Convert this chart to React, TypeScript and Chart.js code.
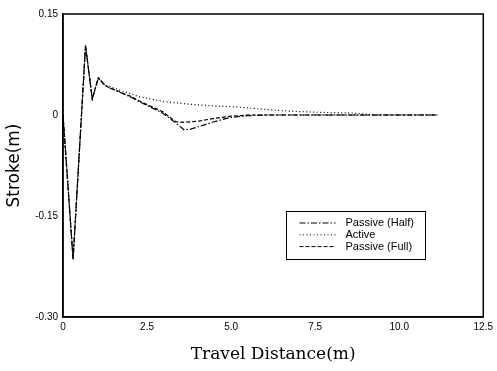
import React, { useEffect, useRef } from "react";
import { Chart, registerables } from "chart.js";

Chart.register(...registerables);

// Shared transient (all three responses overlap here)
const transientX = [0, 0.3, 0.67, 0.87, 1.05, 1.25];
const transientY = [0, -0.214, 0.103, 0.024, 0.055, 0.044];

const halfX = [1.4, 2.0, 2.3, 2.96, 3.36, 3.6, 3.8, 4.05, 4.5, 4.94, 5.5, 6.0, 11.15];
const halfY = [0.04, 0.027, 0.019, 0.003, -0.012, -0.022, -0.021, -0.017, -0.01, -0.004, -0.001, 0, 0];

const activeX = [1.4, 2.28, 3.0, 3.76, 4.6, 5.15, 5.6, 6.6, 7.6, 8.6, 9.3, 11.15];
const activeY = [0.042, 0.027, 0.02, 0.016, 0.013, 0.012, 0.01, 0.006, 0.004, 0.003, 0, 0];

const fullX = [1.4, 2.0, 2.3, 2.96, 3.36, 3.6, 4.05, 4.5, 4.94, 5.5, 11.15];
const fullY = [0.04, 0.028, 0.02, 0.005, -0.01, -0.011, -0.009, -0.005, -0.002, 0, 0];

const seriesLabels = ["Passive (Half)", "Active", "Passive (Full)"];
const xTicks = [0, 2.5, 5.0, 7.5, 10.0, 12.5];
const yTicks = [0.15, 0, -0.15, -0.3];

function build(xs: number[], ys: number[]) {
  const pts = transientX.map((x, i) => ({ x, y: transientY[i] }));
  return pts.concat(xs.map((x, i) => ({ x, y: ys[i] })));
}

const boxPlugin = {
  id: "boxAndLegend",
  afterDraw(chart: any) {
    const { ctx, chartArea } = chart;
    const { left, right, top, bottom } = chartArea;
    ctx.save();
    ctx.strokeStyle = "#000";
    ctx.lineWidth = 1.5;
    ctx.setLineDash([]);
    ctx.strokeRect(left, top, right - left, bottom - top);

    // legend box inside plot
    const w = right - left;
    const h = bottom - top;
    const lx = Math.round(left + 0.531 * w) + 0.5;
    const ly = Math.round(top + 0.65 * h) + 0.5;
    const bw = 139;
    const bh = 48;
    ctx.lineWidth = 1;
    ctx.strokeRect(lx, ly, bw, bh);
    ctx.font = "11px 'Liberation Sans', Arial, sans-serif";
    ctx.fillStyle = "#000";
    ctx.textBaseline = "middle";
    ctx.textAlign = "left";
    chart.data.datasets.forEach((ds: any, i: number) => {
      const yy = ly + 11.5 + i * 11.8;
      ctx.beginPath();
      ctx.setLineDash(ds.borderDash || []);
      ctx.lineWidth = 1;
      ctx.moveTo(lx + 13, yy);
      ctx.lineTo(lx + 49, yy);
      ctx.stroke();
      ctx.setLineDash([]);
      ctx.fillText(ds.label, lx + 59, yy);
    });
    ctx.restore();
  },
};

export default function App() {
  const ref = useRef<HTMLCanvasElement | null>(null);
  useEffect(() => {
    document.body.style.margin = "0";
    const canvas = ref.current!;
    const chart = new Chart(canvas, {
      type: "scatter",
      data: {
        datasets: [
          {
            label: seriesLabels[0],
            data: build(halfX, halfY),
            showLine: true,
            borderColor: "#000",
            borderWidth: 1.2,
            borderDash: [6, 2, 1.5, 2],
            pointRadius: 0,
            tension: 0,
          },
          {
            label: seriesLabels[1],
            data: build(activeX, activeY),
            showLine: true,
            borderColor: "#000",
            borderWidth: 1.2,
            borderDash: [1, 2.5],
            pointRadius: 0,
            tension: 0,
          },
          {
            label: seriesLabels[2],
            data: build(fullX, fullY),
            showLine: true,
            borderColor: "#000",
            borderWidth: 1.2,
            borderDash: [4, 2],
            pointRadius: 0,
            tension: 0,
          },
        ],
      },
      options: {
        responsive: false,
        animation: false,
        layout: { padding: { top: 14, right: 12, left: 0, bottom: 0 } },
        plugins: {
          legend: { display: false },
          tooltip: { enabled: false },
        },
        scales: {
          x: {
            type: "linear",
            min: 0,
            max: 12.5,
            grid: { display: false, drawTicks: false },
            border: { display: true, color: "#000", width: 1.5 },
            afterBuildTicks: (s: any) => {
              s.ticks = xTicks.map((v) => ({ value: v }));
            },
            afterFit: (s: any) => {
              s.height = 54;
            },
            ticks: {
              padding: 4,
              color: "#000",
              font: { family: "'Liberation Sans', Arial, sans-serif", size: 10 },
              maxRotation: 0,
              autoSkip: false,
              callback: (v: any) => (v === 0 ? "0" : Number(v).toFixed(1)),
            },
            title: {
              display: true,
              text: "Travel Distance(m)",
              color: "#000",
              font: { family: "'DejaVu Serif', serif", size: 17 },
              padding: { top: 0, bottom: 6 },
            },
          },
          y: {
            type: "linear",
            min: -0.3,
            max: 0.15,
            grid: { display: false, drawTicks: false },
            border: { display: true, color: "#000", width: 1.5 },
            afterBuildTicks: (s: any) => {
              s.ticks = yTicks.map((v) => ({ value: v }));
            },
            afterFit: (s: any) => {
              s.width = 63;
            },
            ticks: {
              padding: 5,
              color: "#000",
              font: { family: "'Liberation Sans', Arial, sans-serif", size: 10 },
              autoSkip: false,
              callback: (v: any) => (Math.abs(v) < 1e-9 ? "0" : Number(v).toFixed(2)),
            },
            title: {
              display: true,
              text: "Stroke(m)",
              color: "#000",
              font: { family: "'DejaVu Sans', sans-serif", size: 17 },
              padding: { top: 4, bottom: 0 },
            },
          },
        },
      },
      plugins: [boxPlugin],
    } as any);
    return () => chart.destroy();
  }, []);
  return (
    <div style={{ position: "absolute", left: 0, top: 0, width: 497, height: 371, background: "#fff" }}>
      <canvas ref={ref} width={497} height={371} />
    </div>
  );
}
